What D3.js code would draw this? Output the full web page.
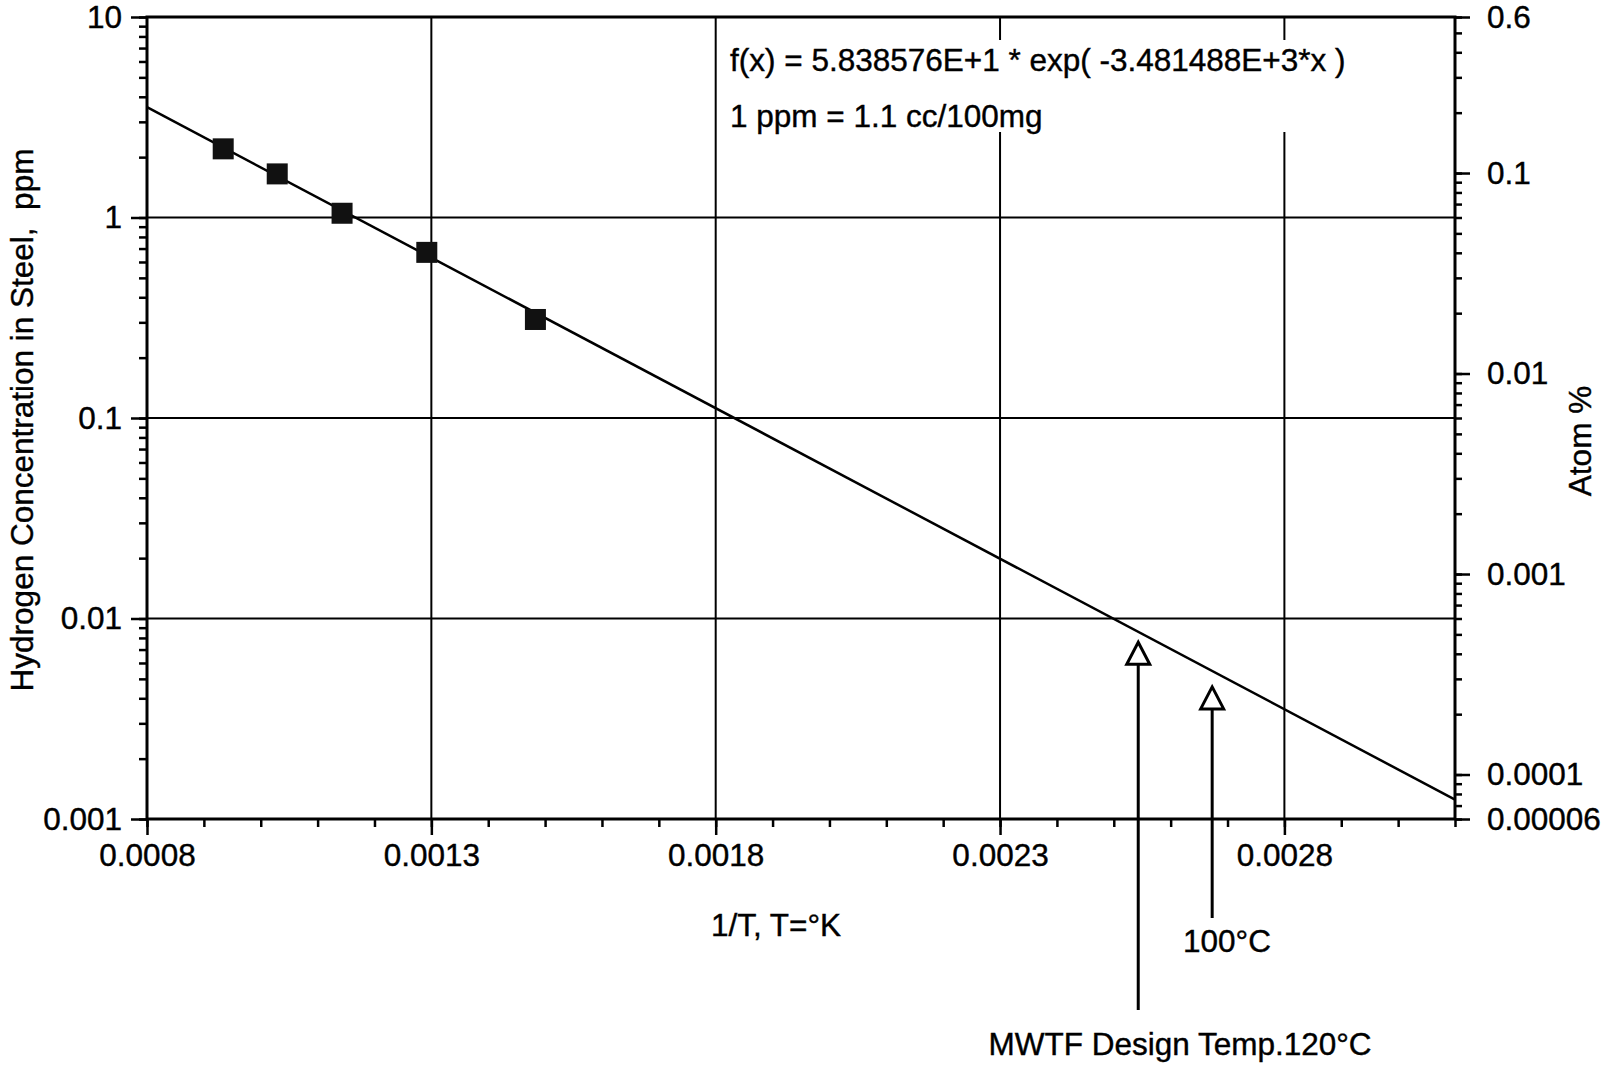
<!DOCTYPE html>
<meta charset="utf-8">
<title>Hydrogen Concentration in Steel</title>
<style>
body {
  margin: 0;
  background: #fff;
}
text {
  font-family: "Liberation Sans", Arial, sans-serif;
  font-size: 31.5px;
  fill: #000;
  stroke: #000;
  stroke-width: 0.4px;
}
.axis .domain {
  display: none;
}
.axis line {
  stroke: #000;
  stroke-width: 2.5px;
}
.grid {
  stroke: #000;
  stroke-width: 2px;
}
</style>
<body>
<script src="https://cdnjs.cloudflare.com/ajax/libs/d3/7.8.5/d3.min.js"></script>
<script>
// measured points (1/T vs ppm)
var invT = [0.000934, 0.001029, 0.001143, 0.001292, 0.001483],
    ppm = [2.2, 1.65, 1.05, 0.67, 0.31];
// fitted line end points
var fitInvT = [0.0008, 0.0031],
    fitPpm = [3.55, 0.00125];
// open triangle markers
var markInvT = [0.002543, 0.002673],
    markPpm = [0.00645, 0.00386],
    markLabels = ["MWTF Design Temp.120°C", "100°C"];
var xTicks = [0.0008, 0.0013, 0.0018, 0.0023, 0.0028],
    xTickLabels = ["0.0008", "0.0013", "0.0018", "0.0023", "0.0028"],
    yTicks = [0.001, 0.01, 0.1, 1, 10],
    yTickLabels = ["0.001", "0.01", "0.1", "1", "10"],
    atomTicks = [0.00006, 0.0001, 0.001, 0.01, 0.1, 0.6],
    atomTickLabels = ["0.00006", "0.0001", "0.001", "0.01", "0.1", "0.6"];
var notes = ["f(x) = 5.838576E+1 * exp( -3.481488E+3*x )", "1 ppm = 1.1 cc/100mg"];

var w = 1609,
    h = 1069,
    pL = 147,
    pR = 1455,
    pT = 17,
    pB = 819;

var x = d3.scaleLinear().domain([0.0008, 0.0031]).range([pL, pR]),
    y = d3.scaleLog().domain([0.001, 10]).range([pB, pT]),
    yR = d3.scaleLog().domain([0.00006, 0.6]).range([pB, pT]);

var svg = d3.select("body").append("svg")
    .attr("width", w)
    .attr("height", h);

// grid
svg.selectAll("line.gx")
    .data(xTicks.slice(1))
  .enter().append("line")
    .attr("class", "grid")
    .attr("x1", x).attr("x2", x)
    .attr("y1", pT).attr("y2", pB);
svg.selectAll("line.gy")
    .data([0.01, 0.1, 1])
  .enter().append("line")
    .attr("class", "grid")
    .attr("x1", pL).attr("x2", pR)
    .attr("y1", y).attr("y2", y);

// minor ticks
var xMinor = d3.range(8, 32).map(function(d) { return d / 10000; });
svg.append("g").attr("class", "axis")
    .attr("transform", "translate(0," + pB + ")")
    .call(d3.axisBottom(x).tickValues(xMinor).tickSize(8).tickFormat(""));
svg.append("g").attr("class", "axis")
    .attr("transform", "translate(" + pL + ",0)")
    .call(d3.axisLeft(y).tickValues(y.ticks()).tickSize(8).tickFormat(""));
svg.append("g").attr("class", "axis")
    .attr("transform", "translate(" + pR + ",0)")
    .call(d3.axisRight(yR).tickValues(yR.ticks()).tickSize(7).tickFormat(""));

// major ticks + labels
svg.append("g").attr("class", "axis")
    .attr("transform", "translate(0," + pB + ")")
    .call(d3.axisBottom(x).tickValues(xTicks).tickSize(16).tickPadding(9)
      .tickFormat(function(d, i) { return xTickLabels[i]; }));
svg.append("g").attr("class", "axis")
    .attr("transform", "translate(" + pL + ",0)")
    .call(d3.axisLeft(y).tickValues(yTicks).tickSize(16).tickPadding(9)
      .tickFormat(function(d, i) { return yTickLabels[i]; }));
svg.append("g").attr("class", "axis")
    .attr("transform", "translate(" + pR + ",0)")
    .call(d3.axisRight(yR).tickValues(atomTicks).tickSize(15).tickPadding(17)
      .tickFormat(function(d, i) { return atomTickLabels[i]; }));
svg.selectAll(".axis text")
    .style("font-family", "\"Liberation Sans\", Arial, sans-serif")
    .style("font-size", "31.5px");

// frame
svg.append("rect")
    .attr("x", pL).attr("y", pT)
    .attr("width", pR - pL).attr("height", pB - pT)
    .style("fill", "none")
    .style("stroke", "#000")
    .style("stroke-width", 3);

// fit line
var pts = fitInvT.map(function(d, i) { return [d, fitPpm[i]]; });
svg.append("path")
    .datum(pts)
    .attr("d", d3.line().x(function(d) { return x(d[0]); }).y(function(d) { return y(d[1]); }))
    .style("fill", "none")
    .style("stroke", "#000")
    .style("stroke-width", 2.5);

// squares
svg.selectAll("rect.pt")
    .data(invT)
  .enter().append("rect")
    .attr("x", function(d) { return x(d) - 10.5; })
    .attr("y", function(d, i) { return y(ppm[i]) - 10.5; })
    .attr("width", 21)
    .attr("height", 21)
    .style("fill", "#111");

// triangles with arrows
var arrowEnd = [1010, 918],
    labelPos = [[1180, 1055], [1227, 952]];
markInvT.forEach(function(d, i) {
  var cx = x(d), cy = y(markPpm[i]);
  svg.append("line")
      .attr("x1", cx).attr("x2", cx)
      .attr("y1", cy + 7).attr("y2", arrowEnd[i])
      .style("stroke", "#000")
      .style("stroke-width", 3);
  svg.append("path")
      .attr("d", "M" + cx + "," + (cy - 14.5) + "L" + (cx + 11.5) + "," + (cy + 7.5) + "L" + (cx - 11.5) + "," + (cy + 7.5) + "Z")
      .style("fill", "#fff")
      .style("stroke", "#000")
      .style("stroke-width", 3);
  svg.append("text")
      .attr("x", labelPos[i][0])
      .attr("y", labelPos[i][1])
      .attr("text-anchor", "middle")
      .text(markLabels[i]);
});

// titles
svg.append("text")
    .attr("x", 776).attr("y", 936)
    .attr("text-anchor", "middle")
    .text("1/T, T=°K");
svg.append("text")
    .attr("transform", "translate(33,420)rotate(-90)")
    .attr("text-anchor", "middle")
    .style("white-space", "pre")
    .text("Hydrogen Concentration in Steel,  ppm");
svg.append("text")
    .attr("transform", "translate(1591,441)rotate(-90)")
    .attr("text-anchor", "middle")
    .text("Atom %");

// note box covers the grid
svg.append("rect")
    .attr("x", 722).attr("y", 40)
    .attr("width", 630).attr("height", 92)
    .style("fill", "#fff");
svg.selectAll("text.note")
    .data(notes)
  .enter().append("text")
    .attr("x", 730)
    .attr("y", function(d, i) { return 71 + i * 56; })
    .text(function(d) { return d; });
</script>
